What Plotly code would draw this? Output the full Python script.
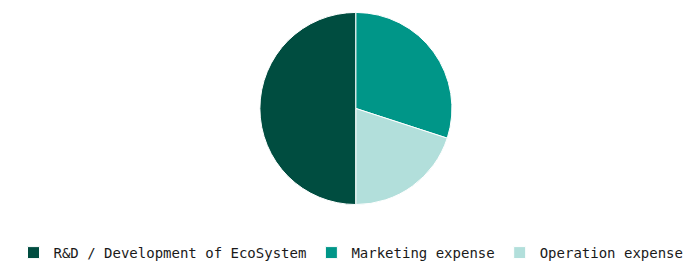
import plotly.graph_objects as go

labels = ["R&D / Development of EcoSystem", "Marketing expense", "Operation expense"]
values = [50, 30, 20]
colors = ["#004D40", "#009688", "#B2DFDB"]

fig = go.Figure(go.Pie(
    labels=labels,
    values=values,
    sort=False,
    direction="clockwise",
    rotation=180,
    marker=dict(colors=colors, line=dict(color="#ffffff", width=1)),
    textinfo="none",
    hoverinfo="label+percent",
    domain=dict(x=[0.29, 0.704], y=[0.247, 0.983]),
))

fig.update_layout(
    width=700, height=261,
    margin=dict(l=0, r=0, t=0, b=0),
    paper_bgcolor="#ffffff",
    font=dict(family="DejaVu Sans Mono", size=14, color="#1a1a1a"),
    showlegend=True,
    legend=dict(orientation="h", x=0.49, xanchor="center", y=0, yanchor="bottom",
                font=dict(size=14)),
)

fig.write_html("out.html")
